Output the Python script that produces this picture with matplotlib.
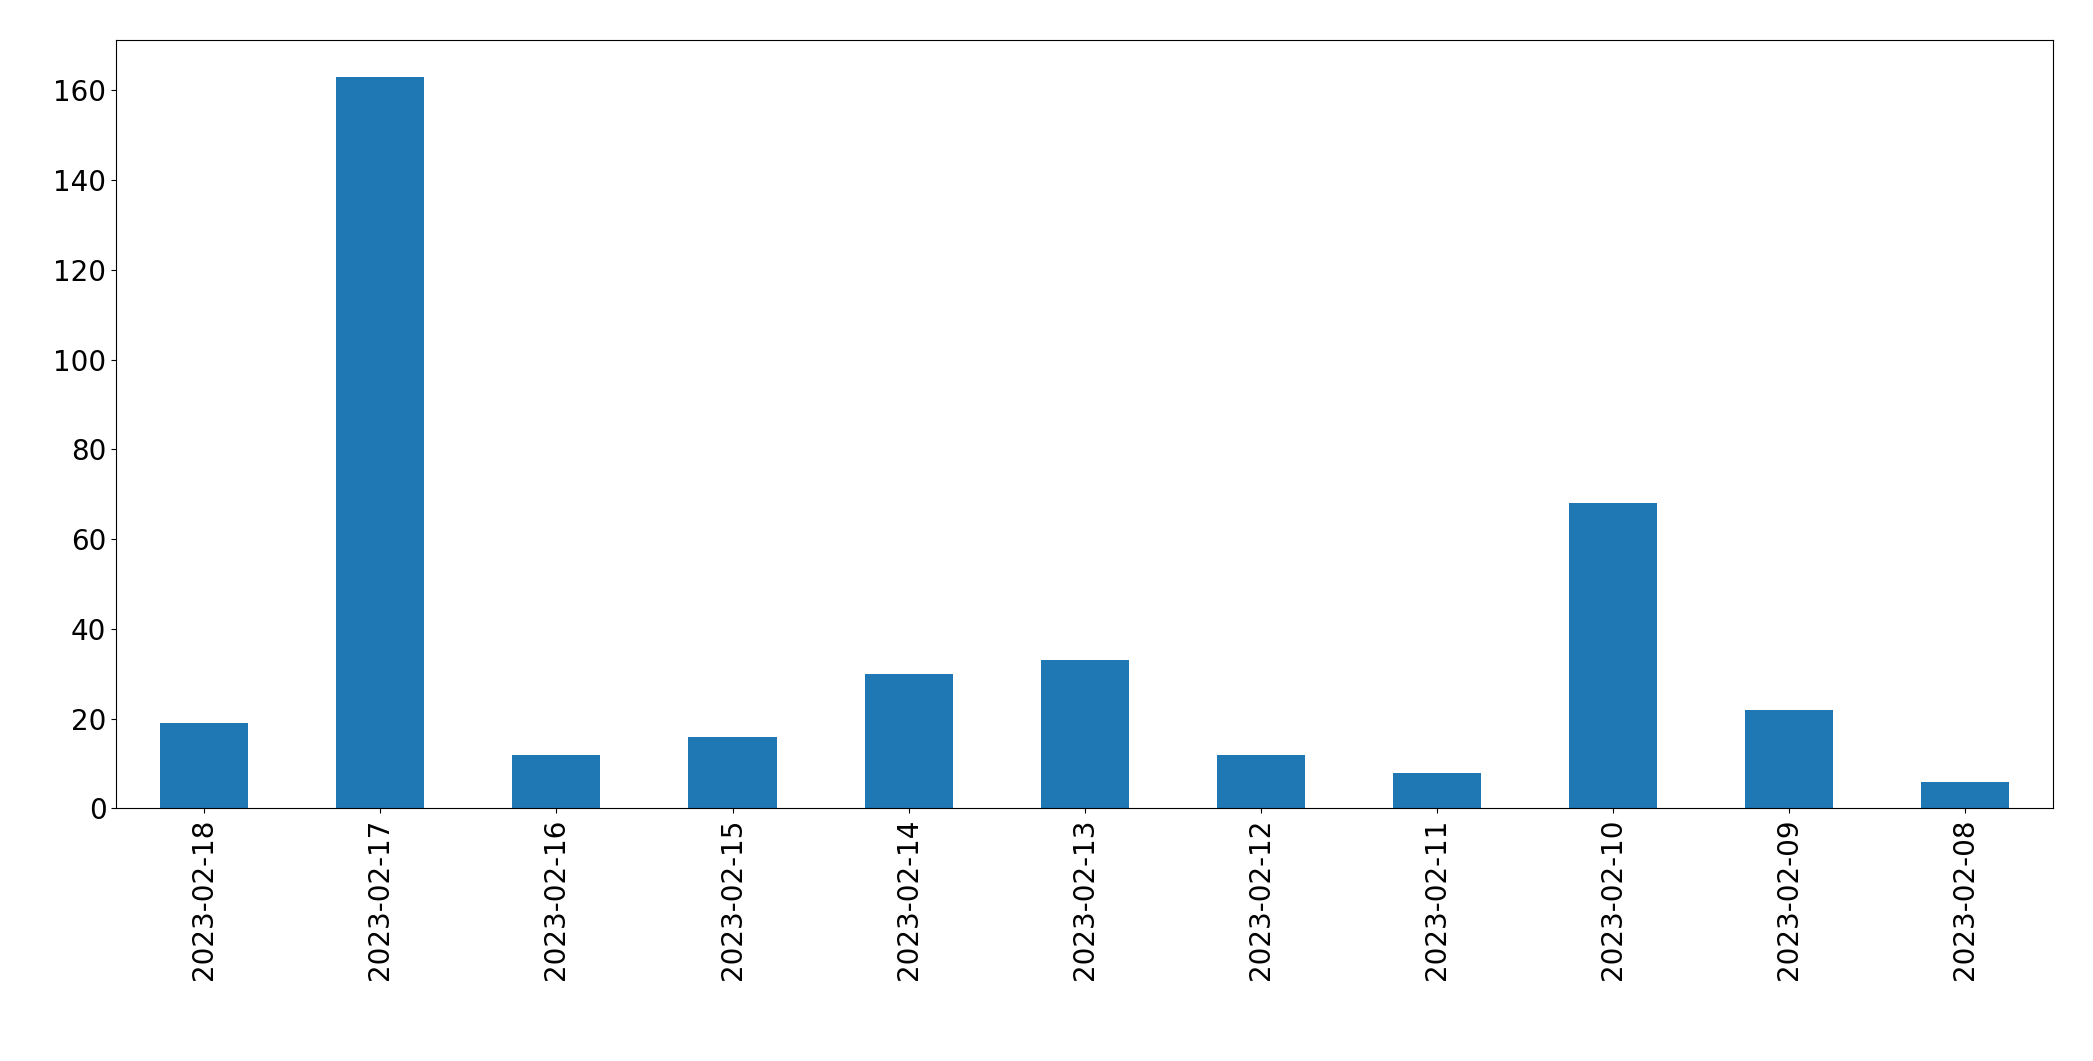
import matplotlib
matplotlib.use("Agg")
import matplotlib.pyplot as plt
import pandas as pd

dates = ["2023-02-18","2023-02-17","2023-02-16","2023-02-15","2023-02-14","2023-02-13",
         "2023-02-12","2023-02-11","2023-02-10","2023-02-09","2023-02-08"]
counts = [19,163,12,16,30,33,12,8,68,22,6]

fig = plt.figure(figsize=(20.93,10.61), dpi=100)
ax = fig.add_axes([0.0555,0.238,0.9255,0.724])
pd.Series(counts, index=dates).plot.bar(ax=ax, color="#1f77b4", width=0.5)
ax.tick_params(labelsize=20)
plt.setp(ax.get_xticklabels(), rotation=90)
fig.savefig("out.png", dpi=100)
